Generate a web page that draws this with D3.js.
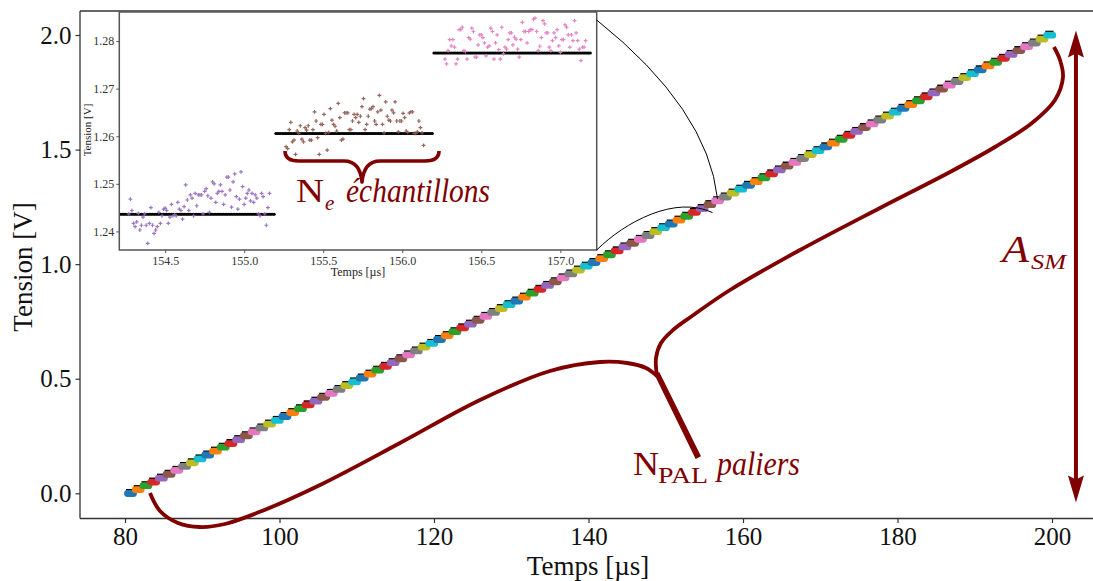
<!DOCTYPE html>
<html><head><meta charset="utf-8">
<script src="https://cdn.jsdelivr.net/npm/d3@7"></script>
<style>body{margin:0;background:#fff}svg{display:block}text{font-family:"Liberation Serif","DejaVu Serif",serif}</style>
</head><body><svg id="c" width="1093" height="581"></svg>
<script>
// ---- data ----
const levels = [0.000,0.017,0.034,0.050,0.067,0.084,0.101,0.118,0.134,0.151,
0.168,0.185,0.202,0.218,0.235,0.252,0.269,0.286,0.303,0.319,
0.336,0.353,0.370,0.387,0.403,0.420,0.437,0.454,0.471,0.487,
0.504,0.521,0.538,0.555,0.571,0.588,0.605,0.622,0.639,0.655,
0.672,0.689,0.706,0.723,0.739,0.756,0.773,0.790,0.807,0.824,
0.840,0.857,0.874,0.891,0.908,0.924,0.941,0.958,0.975,0.992,
1.008,1.025,1.042,1.059,1.076,1.092,1.109,1.126,1.143,1.160,
1.176,1.193,1.210,1.227,1.2436,1.2606,1.2775,1.294,1.311,1.328,
1.345,1.361,1.378,1.395,1.412,1.429,1.445,1.462,1.479,1.496,
1.513,1.529,1.546,1.563,1.580,1.597,1.613,1.630,1.647,1.664,
1.681,1.697,1.714,1.731,1.748,1.765,1.782,1.798,1.815,1.832,
1.849,1.866,1.882,1.899,1.916,1.933,1.950,1.966,1.983,2.000];
const stepStart0 = 80.2;      // µs, start of first level
const stepDuration = 1.0;     // µs per level
const sampleDt = 0.01;        // µs between samples
const samplesPerStep = 100;

const xTicks = [80,100,120,140,160,180,200];
const yTicks = [0.0,0.5,1.0,1.5,2.0];
const insetXTicks = [154.5,155.0,155.5,156.0,156.5,157.0];
const insetYTicks = [1.24,1.25,1.26,1.27,1.28];
const palette = ["#1f77b4","#ff7f0e","#2ca02c","#d62728","#9467bd","#8c564b","#e377c2","#7f7f7f","#bcbd22","#17becf"];

const insetSteps = [74,75,76];
const noiseStart = [154.27,155.265,156.27];
const purpleNoise = [1.2437,1.2468,1.2444,1.2417,1.2410,1.2420,1.2438,1.2403,1.2413,1.2430,
1.2437,1.2413,1.2375,1.2417,1.2450,1.2413,1.2396,1.2403,1.2410,1.2440,
1.2417,1.2433,1.2447,1.2449,1.2444,1.2417,1.2430,1.2457,1.2433,1.2435,
1.2433,1.2461,1.2447,1.2444,1.2426,1.2452,1.2498,1.2466,1.2444,1.2477,
1.2470,1.2433,1.2480,1.2454,1.2477,1.2477,1.2477,1.2437,1.2484,1.2490,
1.2475,1.2440,1.2470,1.2504,1.2500,1.2461,1.2480,1.2484,1.2498,1.2484,
1.2457,1.2477,1.2514,1.2514,1.2487,1.2451,1.2504,1.2521,1.2473,1.2447,
1.2468,1.2525,1.2494,1.2457,1.2470,1.2480,1.2487,1.2464,1.2480,1.2461,
1.2477,1.2470,1.2437,1.2433,1.2480,1.2473,1.2437,1.2413,1.2450,1.2480];
const brownNoise = [1.2578,1.2574,1.2614,1.2629,1.2588,1.2592,1.2562,1.2611,1.2606,1.2622,
1.2594,1.2588,1.2618,1.2613,1.2622,1.2592,1.2592,1.2614,1.2651,1.2632,
1.2597,1.2562,1.2625,1.2625,1.2646,1.2606,1.2571,1.2608,1.2658,1.2634,
1.2625,1.2621,1.2611,1.2669,1.2639,1.2592,1.2594,1.2649,1.2649,1.2649,
1.2614,1.2614,1.2632,1.2646,1.2639,1.2646,1.2629,1.2642,1.2662,1.2679,
1.2614,1.2625,1.2642,1.2657,1.2658,1.2662,1.2632,1.2625,1.2651,1.2686,
1.2655,1.2625,1.2607,1.2672,1.2642,1.2634,1.2632,1.2655,1.2649,1.2672,
1.2632,1.2609,1.2632,1.2632,1.2648,1.2639,1.2611,1.2608,1.2649,1.2651,
1.2651,1.2606,1.2606,1.2609,1.2632,1.2618,1.2607,1.2581];
const pinkNoise = [1.2762,1.2752,1.2780,1.2803,1.2790,1.2803,1.2787,1.2752,1.2762,1.2824,
1.2824,1.2829,1.2780,1.2778,1.2762,1.2807,1.2804,1.2827,1.2820,1.2766,
1.2766,1.2792,1.2813,1.2813,1.2807,1.2796,1.2769,1.2787,1.2790,1.2827,
1.2820,1.2762,1.2796,1.2813,1.2782,1.2762,1.2829,1.2773,1.2787,1.2783,
1.2803,1.2817,1.2817,1.2792,1.2808,1.2804,1.2783,1.2766,1.2803,1.2839,
1.2820,1.2820,1.2796,1.2820,1.2824,1.2824,1.2846,1.2848,1.2820,1.2780,
1.2789,1.2807,1.2843,1.2836,1.2817,1.2817,1.2787,1.2780,1.2801,1.2817,
1.2807,1.2824,1.2790,1.2776,1.2803,1.2803,1.2834,1.2829,1.2813,1.2787,
1.2813,1.2801,1.2843,1.2817,1.2801,1.2783,1.2759,1.2787,1.2787,1.2801];
const insetNoise = [purpleNoise, brownNoise, pinkNoise];

// ---- drawing ----
const svg = d3.select("#c");
const RED = "#800000";
const x = d3.scaleLinear().domain([80,200]).range([125,1052]);
const y = d3.scaleLinear().domain([0,2]).range([493.3,35]);
const frame = {l:80, t:11, b:518.5, r:1110};

// staircase in main axes
const gMain = svg.append("g");
levels.forEach((v,k)=>{
  const t0 = stepStart0 + k*stepDuration;
  gMain.append("line").attr("x1",x(t0)-0.5).attr("x2",x(t0+stepDuration))
    .attr("y1",y(v)-0.8).attr("y2",y(v)-0.8).attr("stroke","#000").attr("stroke-width",7);
});
levels.forEach((v,k)=>{
  const t0 = stepStart0 + k*stepDuration;
  gMain.append("line").attr("x1",x(t0+0.12)).attr("x2",x(t0+0.9))
    .attr("y1",y(v)+0.2).attr("y2",y(v)+0.2).attr("stroke",palette[k%10])
    .attr("stroke-width",6.8).attr("stroke-linecap","round");
});

// spines
const spine = svg.append("g").attr("stroke","#333").attr("stroke-width",1.3);
spine.append("line").attr("x1",frame.l).attr("x2",frame.l).attr("y1",frame.t).attr("y2",frame.b);
spine.append("line").attr("x1",frame.l).attr("x2",frame.r).attr("y1",frame.t).attr("y2",frame.t);
spine.append("line").attr("x1",frame.l).attr("x2",frame.r).attr("y1",frame.b).attr("y2",frame.b);

// axes
const xAxis = svg.append("g").attr("transform",`translate(0,${frame.b})`)
  .call(d3.axisBottom(x).tickValues(xTicks).tickSize(4.5).tickPadding(4).tickFormat(d3.format("d")));
const yAxis = svg.append("g").attr("transform",`translate(${frame.l},0)`)
  .call(d3.axisLeft(y).tickValues(yTicks).tickSize(4.5).tickPadding(4).tickFormat(d3.format(".1f")));
[xAxis,yAxis].forEach(a=>{
  a.select(".domain").remove();
  a.selectAll(".tick line").attr("stroke","#333").attr("stroke-width",1.2);
  a.selectAll(".tick text").attr("font-family","Liberation Serif").attr("font-size",25).attr("fill","#111");
});
xAxis.selectAll(".tick text").attr("dy","0.72em");
svg.append("text").attr("x",588).attr("y",575).attr("text-anchor","middle")
  .attr("font-size",27).attr("fill","#111").text("Temps [µs]");
svg.append("text").attr("transform","translate(32,267) rotate(-90)").attr("text-anchor","middle")
  .attr("font-size",27).attr("fill","#111").text("Tension [V]");

// ---- inset ----
const ix = d3.scaleLinear().domain([154.21,157.23]).range([119.3,596.7]);
const iy = d3.scaleLinear().domain([1.2361,1.2861]).range([250,12]);
const gIn = svg.append("g");
gIn.append("rect").attr("x",119.3).attr("y",12).attr("width",596.7-119.3).attr("height",238).attr("fill","#fff");
svg.append("clipPath").attr("id","ic").append("rect").attr("x",119.3).attr("y",12).attr("width",596.7-119.3).attr("height",238);
const gClip = gIn.append("g").attr("clip-path","url(#ic)");
// ideal levels (black markers)
[73,74,75,76,77].forEach(k=>{
  const t0 = stepStart0 + k*stepDuration;
  const pts = d3.range(samplesPerStep).map(j=>[t0 + j*sampleDt, levels[k]]);
  gClip.append("g").selectAll("circle").data(pts).join("circle")
    .attr("cx",d=>ix(d[0])).attr("cy",d=>iy(d[1])).attr("r",1.5).attr("fill","#000");
});
// noisy samples (+ markers)
insetSteps.forEach((k,i)=>{
  const vals = insetNoise[i];
  let p = "";
  vals.forEach((v,j)=>{
    const px = ix(noiseStart[i] + j*sampleDt), py = iy(v);
    p += `M${px-1.9},${py}h3.8M${px},${py-1.9}v3.8`;
  });
  gClip.append("path").attr("d",p).attr("stroke",palette[k%10]).attr("stroke-width",1.2)
    .attr("fill","none").attr("opacity",0.9);
});
gIn.append("rect").attr("x",119.3).attr("y",12).attr("width",596.7-119.3).attr("height",238)
  .attr("fill","none").attr("stroke","#555").attr("stroke-width",1.5);
const ixAxis = gIn.append("g").attr("transform","translate(0,250)")
  .call(d3.axisBottom(ix).tickValues(insetXTicks).tickSize(3).tickPadding(3).tickFormat(d3.format(".1f")));
const iyAxis = gIn.append("g").attr("transform","translate(119.3,0)")
  .call(d3.axisLeft(iy).tickValues(insetYTicks).tickSize(3).tickPadding(2).tickFormat(d3.format(".2f")));
[ixAxis,iyAxis].forEach(a=>{
  a.select(".domain").remove();
  a.selectAll(".tick line").attr("stroke","#555");
  a.selectAll(".tick text").attr("font-family","Liberation Serif").attr("font-size",12).attr("fill","#333");
});
gIn.append("text").attr("x",358).attr("y",276).attr("text-anchor","middle")
  .attr("font-size",12).attr("fill","#222").text("Temps [µs]");
gIn.append("text").attr("transform","translate(91,130) rotate(-90)").attr("text-anchor","middle")
  .attr("font-size",11).attr("fill","#222").text("Tension [V]");

// connectors from inset to zoomed region
const c1 = [[ix.range()[1], iy.range()[1]+8], [x(156.7), y(1.285)]];
svg.append("path").attr("d",`M${c1[0][0]},${c1[0][1]} Q708,109 ${c1[1][0]},${c1[1][1]}`)
  .attr("fill","none").attr("stroke","#000").attr("stroke-width",1);
const c2 = [[ix.range()[1], iy.range()[0]], [x(156.05), y(1.225)]];
svg.append("path").attr("d",`M${c2[0][0]},${c2[0][1]} C625,222 675,195 ${c2[1][0]},${c2[1][1]}`)
  .attr("fill","none").attr("stroke","#000").attr("stroke-width",1);

// ---- annotations ----
// N_e brace (inset)
svg.append("path").attr("d","M285,151 Q285,161 299,161 L344,161 Q360,161 362,182 Q364,161 380,161 L425,161 Q439,161 439,151")
  .attr("fill","none").attr("stroke",RED).attr("stroke-width",3.6).attr("stroke-linejoin","round");
svg.append("text").attr("x",296).attr("y",202).attr("font-size",34).attr("fill",RED)
  .attr("textLength",28).attr("lengthAdjust","spacingAndGlyphs").text("N");
svg.append("text").attr("x",325).attr("y",210).attr("font-size",21).attr("font-style","italic").attr("fill",RED).text("e");
svg.append("text").attr("x",346).attr("y",202).attr("font-size",34).attr("font-style","italic").attr("fill",RED)
  .attr("textLength",144).attr("lengthAdjust","spacingAndGlyphs").text("échantillons");

// N_PAL brace (main)
const line = d3.line().curve(d3.curveCatmullRom.alpha(0.5));
const leftBranch = [[150,493],[160,511],[178,523],[200,527],[225,524],[262,511],[320,485],[400,443],[480,400],[550,371],[600,362],[627,363],[646,368],[657,376]];
const rightBranch = [[657,376],[656,358],[661,343],[673,330],[692,316],[730,290],[800,250],[880,208],[950,172],[995,147],[1032,123],[1055,100],[1063,77],[1060,60],[1054,47]];
svg.append("path").attr("d",line(leftBranch)).attr("fill","none").attr("stroke",RED).attr("stroke-width",3.8).attr("stroke-linecap","butt");
svg.append("path").attr("d",line(rightBranch)).attr("fill","none").attr("stroke",RED).attr("stroke-width",3.8).attr("stroke-linecap","butt");
svg.append("path").attr("d","M655,374 L659,373 L700,456 L696,458 Z").attr("fill",RED).attr("stroke",RED).attr("stroke-width",1.5);
svg.append("text").attr("x",633).attr("y",475).attr("font-size",33).attr("fill",RED)
  .attr("textLength",26).attr("lengthAdjust","spacingAndGlyphs").text("N");
svg.append("text").attr("x",658).attr("y",483).attr("font-size",24).attr("fill",RED)
  .attr("textLength",50).attr("lengthAdjust","spacingAndGlyphs").text("PAL");
svg.append("text").attr("x",717).attr("y",475).attr("font-size",33).attr("font-style","italic").attr("fill",RED)
  .attr("textLength",83).attr("lengthAdjust","spacingAndGlyphs").text("paliers");

// A_SM double arrow
const ax = x(203.1), yTop = y(2.02), yBot = y(-0.04);
svg.append("line").attr("x1",ax).attr("x2",ax).attr("y1",yTop+20).attr("y2",yBot-20)
  .attr("stroke",RED).attr("stroke-width",4);
svg.append("path").attr("d",`M${ax},${yTop} L${ax+8},${yTop+27} L${ax},${yTop+23} L${ax-8},${yTop+27} Z`).attr("fill",RED);
svg.append("path").attr("d",`M${ax},${yBot} L${ax+8},${yBot-27} L${ax},${yBot-23} L${ax-8},${yBot-27} Z`).attr("fill",RED);
svg.append("text").attr("x",1002).attr("y",262).attr("font-size",37).attr("font-style","italic").attr("fill",RED)
  .attr("textLength",27).attr("lengthAdjust","spacingAndGlyphs").text("A");
svg.append("text").attr("x",1031).attr("y",269).attr("font-size",21).attr("font-style","italic").attr("fill",RED)
  .attr("textLength",35).attr("lengthAdjust","spacingAndGlyphs").text("SM");
</script></body></html>
